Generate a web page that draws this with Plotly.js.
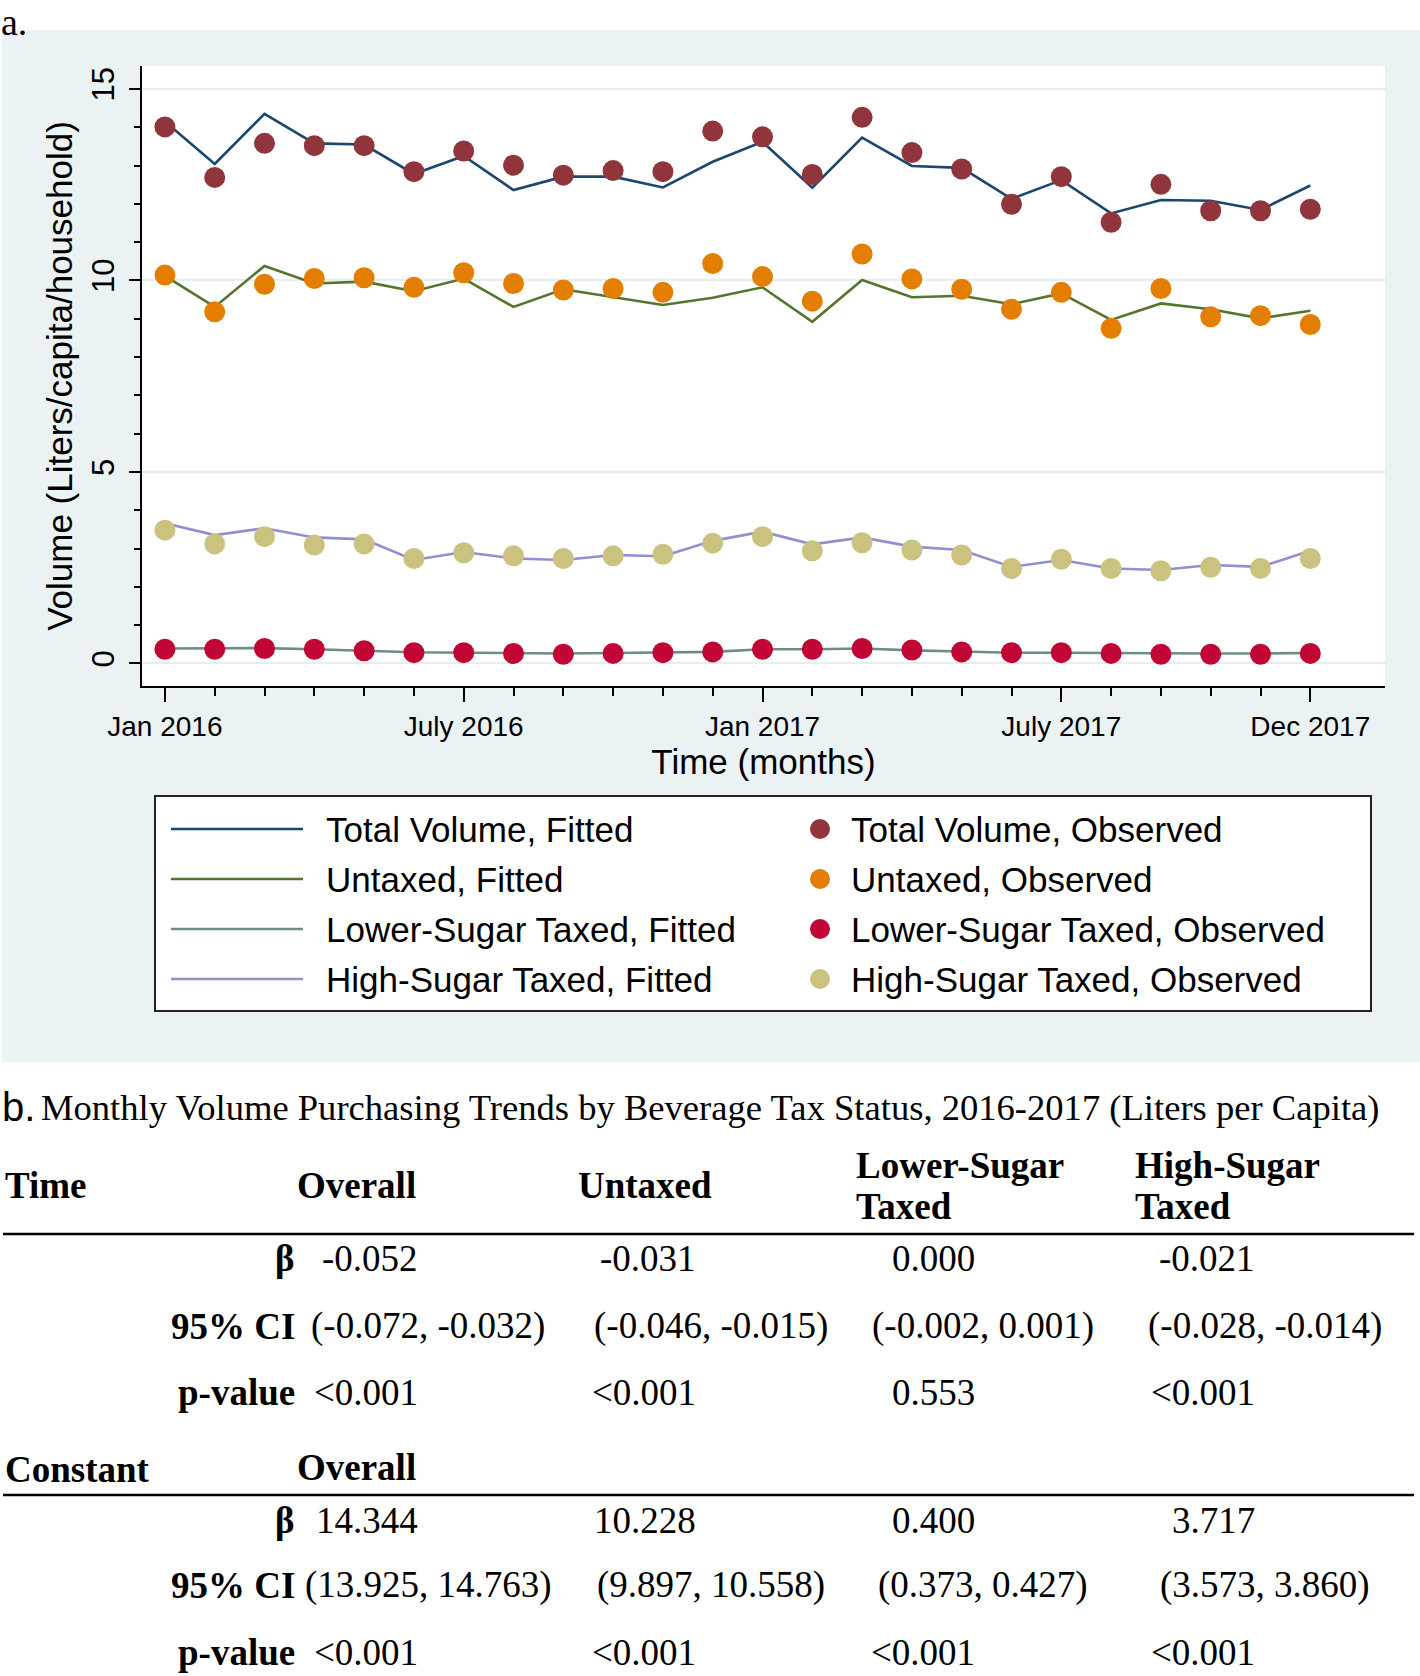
<!DOCTYPE html>
<html>
<head>
<meta charset="utf-8">
<script src="https://cdn.plot.ly/plotly-3.0.1.min.js"></script>
<style>html,body{margin:0;padding:0;background:#fff;}#chart{width:1420px;height:1676px;}</style>
</head>
<body>
<div id="chart"></div>
<script>
// ---------- DATA ----------
const months = ['Jan 2016','Feb 2016','Mar 2016','Apr 2016','May 2016','Jun 2016','Jul 2016','Aug 2016','Sep 2016','Oct 2016','Nov 2016','Dec 2016',
                'Jan 2017','Feb 2017','Mar 2017','Apr 2017','May 2017','Jun 2017','Jul 2017','Aug 2017','Sep 2017','Oct 2017','Nov 2017','Dec 2017'];
const tickMonths = ['Jan 2016','Jul 2016','Jan 2017','Jul 2017','Dec 2017'];
const tickLabels = ['Jan 2016','July 2016','Jan 2017','July 2017','Dec 2017'];

const totalFitted   = [14.15,13.04,14.35,13.58,13.55,12.78,13.25,12.36,12.71,12.71,12.43,13.10,13.62,12.42,13.73,12.99,12.94,12.13,12.62,11.75,12.10,12.08,11.84,12.48];
const totalObserved = [14.01,12.69,13.58,13.52,13.52,12.84,13.38,13.01,12.75,12.87,12.84,13.90,13.75,12.77,14.26,13.34,12.91,11.99,12.71,11.52,12.51,11.82,11.82,11.86];
const untaxedFitted   = [10.12,9.31,10.38,9.92,9.97,9.72,10.05,9.31,9.77,9.57,9.36,9.55,9.82,8.92,10.01,9.56,9.60,9.38,9.66,8.97,9.40,9.25,9.01,9.21];
const untaxedObserved = [10.14,9.18,9.90,10.05,10.07,9.82,10.20,9.92,9.75,9.79,9.69,10.44,10.10,9.46,10.69,10.04,9.77,9.25,9.69,8.75,9.79,9.05,9.08,8.85];
const lowerFitted   = [0.39,0.39,0.40,0.37,0.33,0.29,0.28,0.27,0.26,0.27,0.28,0.30,0.37,0.37,0.39,0.34,0.31,0.28,0.28,0.27,0.26,0.26,0.26,0.27];
const lowerObserved = [0.37,0.37,0.39,0.37,0.33,0.28,0.28,0.26,0.24,0.26,0.28,0.30,0.37,0.37,0.39,0.35,0.30,0.28,0.28,0.26,0.24,0.24,0.24,0.26];
const highFitted   = [3.66,3.35,3.53,3.29,3.24,2.70,2.91,2.74,2.70,2.83,2.80,3.20,3.44,3.11,3.29,3.05,2.96,2.52,2.70,2.48,2.44,2.57,2.52,2.94];
const highObserved = [3.48,3.12,3.31,3.09,3.12,2.74,2.89,2.81,2.74,2.81,2.85,3.14,3.31,2.94,3.15,2.96,2.83,2.48,2.72,2.48,2.42,2.51,2.48,2.74];

const seriesNames = ['Total Volume','Untaxed','Lower-Sugar Taxed','High-Sugar Taxed'];
const fittedData   = [totalFitted, untaxedFitted, lowerFitted, highFitted];
const observedData = [totalObserved, untaxedObserved, lowerObserved, highObserved];
const lineColors   = ['#1a476f','#55752f','#6e8e84','#938dd2'];
const markerColors = ['#90353b','#e37e00','#c10534','#cac27e'];

const yTickVals = [0,5,10,15];

// table
const tableTitle = 'Monthly Volume Purchasing Trends by Beverage Tax Status, 2016-2017 (Liters per Capita)';
const tableColumns = [['Overall'],['Untaxed'],['Lower-Sugar','Taxed'],['High-Sugar','Taxed']];
const rowLabels = ['β','95% CI','p-value'];
const timeBeta = ['-0.052','-0.031','0.000','-0.021'];
const timeCI   = ['(-0.072, -0.032)','(-0.046, -0.015)','(-0.002, 0.001)','(-0.028, -0.014)'];
const timeP    = ['<0.001','<0.001','0.553','<0.001'];
const constBeta = ['14.344','10.228','0.400','3.717'];
const constCI   = ['(13.925, 14.763)','(9.897, 10.558)','(0.373, 0.427)','(3.573, 3.860)'];
const constP    = ['<0.001','<0.001','<0.001','<0.001'];

// ---------- LAYOUT HELPERS ----------
const W = 1420, H = 1676;
const px = x => x / W;
const py = y => 1 - y / H;
const xIdx = months.map((m, i) => i);
const tickIdx = tickMonths.map(t => months.indexOf(t));

const traces = [];
fittedData.forEach((d, k) => {
  traces.push({x: xIdx, y: d, type: 'scatter', mode: 'lines', name: seriesNames[k] + ', Fitted',
    line: {color: lineColors[k], width: 2.6}, hoverinfo: 'x+y'});
});
observedData.forEach((d, k) => {
  traces.push({x: xIdx, y: d, type: 'scatter', mode: 'markers', name: seriesNames[k] + ', Observed',
    marker: {color: markerColors[k], size: 21, line: {width: 0}}, hoverinfo: 'x+y'});
});

const shapes = [];
const annotations = [];
const SANS = 'Liberation Sans, Arial, sans-serif';
const SERIF = 'Liberation Serif, Times New Roman, serif';

// gray graph region and white plot region
shapes.push({type: 'rect', xref: 'paper', yref: 'paper', x0: px(2), x1: px(1420), y0: py(1062), y1: py(30),
  fillcolor: 'rgb(234,242,243)', line: {width: 0}, layer: 'below'});
shapes.push({type: 'rect', xref: 'paper', yref: 'paper', x0: px(142), x1: px(1385), y0: py(686), y1: py(66),
  fillcolor: '#ffffff', line: {width: 0}, layer: 'below'});

// custom legend
shapes.push({type: 'rect', xref: 'paper', yref: 'paper', x0: px(155), x1: px(1371), y0: py(1011), y1: py(796),
  fillcolor: '#ffffff', line: {color: '#222', width: 2}, layer: 'above'});
seriesNames.forEach((n, k) => {
  const yc = 829 + 50 * k;
  shapes.push({type: 'line', xref: 'paper', yref: 'paper', x0: px(171), x1: px(303), y0: py(yc), y1: py(yc),
    line: {color: lineColors[k], width: 2.6}, layer: 'above'});
  annotations.push({xref: 'paper', yref: 'paper', x: px(324), y: py(yc), xanchor: 'left', yanchor: 'middle',
    text: n + ', Fitted', showarrow: false, font: {family: SANS, size: 35, color: '#000'}});
  shapes.push({type: 'circle', xref: 'paper', yref: 'paper', x0: px(810), x1: px(830), y0: py(yc + 10), y1: py(yc - 10),
    fillcolor: markerColors[k], line: {width: 0}, layer: 'above'});
  annotations.push({xref: 'paper', yref: 'paper', x: px(849), y: py(yc), xanchor: 'left', yanchor: 'middle',
    text: n + ', Observed', showarrow: false, font: {family: SANS, size: 35, color: '#000'}});
});

// panel labels
annotations.push({xref: 'paper', yref: 'paper', x: 0, y: 1, xanchor: 'left', yanchor: 'top',
  text: 'a.', showarrow: false, font: {family: SERIF, size: 38, color: '#000'}, borderpad: 0});
annotations.push({xref: 'paper', yref: 'paper', x: 0, y: py(1107), xanchor: 'left', yanchor: 'middle',
  text: 'b.', showarrow: false, font: {family: SANS, size: 40, color: '#000'}});
annotations.push({xref: 'paper', yref: 'paper', x: px(39), y: py(1107), xanchor: 'left', yanchor: 'middle',
  text: tableTitle, showarrow: false, font: {family: SERIF, size: 36.6, color: '#000'}});

// table
const TF = {family: SERIF, size: 37, color: '#000'};
function txt(x, y, t, anchor) {
  annotations.push({xref: 'paper', yref: 'paper', x: px(x), y: py(y), xanchor: anchor, yanchor: 'middle',
    text: t, showarrow: false, font: TF, borderpad: 0});
}
const colLeft = [296, 577, 855, 1134];
const shortRight = [419, 697, 976, 1256];
const ciCenter = [428, 711, 983, 1265];

txt(4, 1185, '<b>Time</b>', 'left');
tableColumns.forEach((c, j) => {
  if (c.length === 1) txt(colLeft[j], 1185, '<b>' + c[0] + '</b>', 'left');
  else { txt(colLeft[j], 1165, '<b>' + c[0] + '</b>', 'left'); txt(colLeft[j], 1206, '<b>' + c[1] + '</b>', 'left'); }
});
shapes.push({type: 'line', xref: 'paper', yref: 'paper', x0: px(3), x1: px(1414), y0: py(1234), y1: py(1234), line: {color: '#000', width: 2.5}});

function block(rowsY, beta, ci, p) {
  [beta, ci, p].forEach((vals, r) => {
    txt(296, rowsY[r], '<b>' + rowLabels[r] + '</b>', 'right');
    vals.forEach((v, j) => {
      if (r === 1) txt(ciCenter[j], rowsY[r], v.replace('<', '&lt;'), 'center');
      else txt(shortRight[j], rowsY[r], v.replace('<', '&lt;'), 'right');
    });
  });
}
block([1258, 1326, 1392], timeBeta, timeCI, timeP);
txt(4, 1469, '<b>Constant</b>', 'left');
txt(colLeft[0], 1467, '<b>' + tableColumns[0][0] + '</b>', 'left');
shapes.push({type: 'line', xref: 'paper', yref: 'paper', x0: px(3), x1: px(1414), y0: py(1495), y1: py(1495), line: {color: '#000', width: 2.5}});
block([1520, 1585, 1652], constBeta, constCI, constP);

const layout = {
  width: W, height: H,
  margin: {l: 0, r: 0, t: 0, b: 0, pad: 0},
  paper_bgcolor: '#ffffff', plot_bgcolor: '#ffffff',
  showlegend: false,
  font: {family: SANS, color: '#000'},
  xaxis: {
    domain: [px(142), px(1385)], range: [-0.46, 24.5],
    tickmode: 'array', tickvals: tickIdx, ticktext: tickLabels,
    ticks: 'outside', ticklen: 14, tickwidth: 2, tickcolor: '#000',
    showline: true, linecolor: '#000', linewidth: 2,
    showgrid: false, zeroline: false,
    tickfont: {family: SANS, size: 28, color: '#000'},
    minor: {tickmode: 'array', tickvals: xIdx, ticks: 'outside', ticklen: 8, tickwidth: 2, tickcolor: '#000', showgrid: false},
    title: {text: 'Time (months)', font: {family: SANS, size: 35, color: '#000'}, standoff: 2}
  },
  yaxis: {
    domain: [py(686), py(66)], range: [-0.59, 15.6],
    tickmode: 'array', tickvals: yTickVals, ticktext: yTickVals.map(String), tickangle: -90,
    ticks: 'outside', ticklen: 11, tickwidth: 2, tickcolor: '#000', ticklabelstandoff: 3,
    showline: true, linecolor: '#000', linewidth: 2,
    showgrid: true, gridcolor: 'rgb(230,238,240)', gridwidth: 2, zeroline: false,
    tickfont: {family: SANS, size: 31, color: '#000'},
    minor: {tickmode: 'linear', tick0: 0, dtick: 1, ticks: 'outside', ticklen: 6, tickwidth: 2, tickcolor: '#000', showgrid: false},
    title: {text: 'Volume (Liters/capita/household)', font: {family: SANS, size: 35, color: '#000'}, standoff: 2}
  },
  shapes: shapes,
  annotations: annotations
};

Plotly.newPlot('chart', traces, layout, {displayModeBar: false, staticPlot: true});
</script>
</body>
</html>
